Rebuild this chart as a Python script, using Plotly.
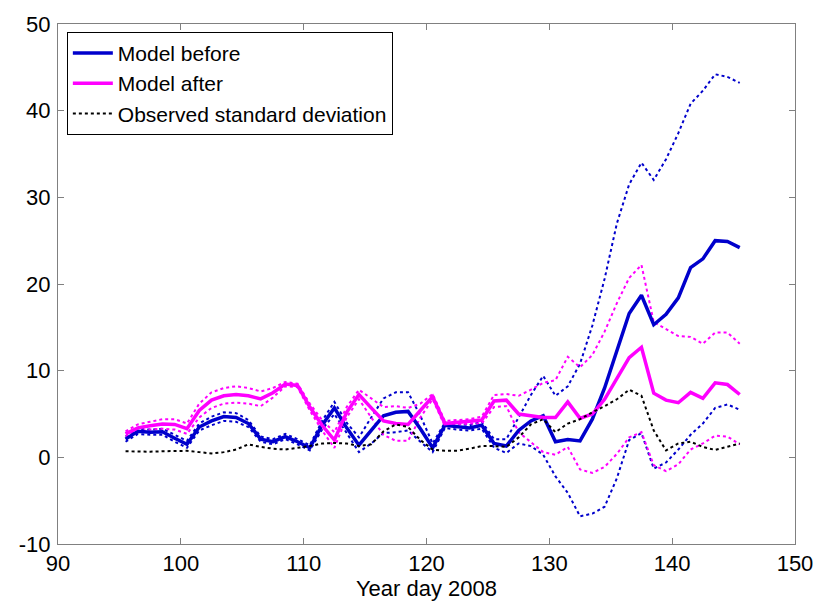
import plotly.graph_objects as go

days = [95.5, 96.5, 97.5, 98.5, 99.5, 100.5, 101.5, 102.5, 103.5, 104.5,
        105.5, 106.5, 107.5, 108.5, 109.5, 110.5, 111.5, 112.5, 113.5, 114.5,
        115.5, 116.5, 117.5, 118.5, 119.5, 120.5, 121.5, 122.5, 123.5, 124.5,
        125.5, 126.5, 127.5, 128.5, 129.5, 130.5, 131.5, 132.5, 133.5, 134.5,
        135.5, 136.5, 137.5, 138.5, 139.5, 140.5, 141.5, 142.5, 143.5, 144.5,
        145.5]

model_before = [2.1, 3.0, 2.9, 2.95, 2.2, 1.5, 3.5, 4.2, 4.7, 4.6,
                3.9, 2.1, 1.8, 2.4, 1.8, 1.1, 3.7, 5.7, 3.4, 1.4,
                3.1, 4.8, 5.2, 5.3, 3.3, 1.1, 3.7, 3.55, 3.4, 3.7,
                1.6, 1.3, 3.1, 4.2, 4.8, 1.8, 2.05, 1.9, 4.4, 8.0,
                12.2, 16.6, 18.7, 15.3, 16.5, 18.4, 21.9, 22.9, 25.0, 24.9,
                24.2]

before_upper = [2.4, 3.3, 3.2, 3.3, 2.6, 1.9, 3.9, 4.7, 5.2, 5.1,
                4.3, 2.4, 2.1, 2.7, 2.1, 1.4, 4.2, 6.4, 4.0, 2.3,
                4.6, 6.8, 7.5, 7.5, 4.8, 1.6, 4.0, 3.9, 3.7, 4.1,
                2.1, 2.1, 4.6, 7.2, 9.4, 7.1, 8.2, 10.8, 15.2, 20.6,
                27.0, 31.5, 34.0, 32.0, 34.4, 37.4, 40.8, 42.3, 44.2, 43.9,
                43.2]

before_lower = [1.8, 2.7, 2.6, 2.6, 1.8, 1.1, 3.1, 3.7, 4.2, 4.1,
                3.5, 1.8, 1.5, 2.1, 1.5, 0.8, 3.2, 5.0, 2.8, 0.6,
                1.6, 2.8, 2.9, 3.1, 1.8, 0.6, 3.4, 3.2, 3.1, 3.3,
                1.1, 0.5, 1.6, 1.3, 0.3, -2.2, -4.1, -6.8, -6.5, -5.7,
                -2.4, 2.0, 2.8, -1.3, -0.6, 0.9, 2.6, 3.9, 5.7, 6.1,
                5.5]

model_after = [2.7, 3.4, 3.65, 3.85, 3.8, 3.3, 5.4, 6.6, 7.1, 7.25,
               7.1, 6.75, 7.45, 8.45, 8.3, 5.8, 3.7, 2.0, 5.2, 7.25,
               5.7, 4.2, 3.9, 3.8, 5.4, 7.0, 3.9, 4.05, 4.15, 4.3,
               6.5, 6.6, 5.0, 4.8, 4.6, 4.6, 6.4, 4.5, 5.0, 6.7,
               9.1, 11.5, 12.7, 7.4, 6.6, 6.3, 7.5, 6.8, 8.6, 8.4,
               7.25]

after_upper = [3.0, 3.8, 4.1, 4.4, 4.4, 3.9, 6.2, 7.5, 8.0, 8.2,
               8.0, 7.6, 8.0, 8.7, 8.5, 6.2, 4.3, 2.9, 5.8, 7.8,
               6.8, 5.8, 5.9, 5.7, 6.2, 7.3, 4.2, 4.3, 4.4, 4.7,
               7.2, 7.3, 7.1, 7.8, 8.6, 8.9, 11.6, 10.4, 11.8, 14.5,
               17.8, 20.7, 22.2, 15.6, 14.8, 14.0, 13.9, 13.1, 14.4, 14.4,
               13.1]

after_lower = [2.4, 3.0, 3.2, 3.3, 3.2, 2.7, 4.6, 5.7, 6.2, 6.3,
               6.2, 5.9, 6.9, 8.2, 8.1, 5.4, 3.1, 1.1, 4.6, 6.7,
               4.6, 2.6, 1.9, 1.9, 4.6, 6.7, 3.6, 3.8, 3.9, 3.9,
               5.8, 5.9, 2.9, 1.8, 0.6, 0.3, 1.2, -1.4, -1.8, -1.1,
               0.4, 2.3, 2.9, -0.9, -1.6, -0.8, 0.9, 1.6, 2.5, 2.4,
               1.5]

observed_std = [0.7, 0.65, 0.65, 0.7, 0.7, 0.75, 0.6, 0.45, 0.6, 0.9,
                1.5, 1.2, 1.0, 0.9, 1.1, 1.3, 1.6, 1.65, 1.6, 1.3,
                1.5, 3.0, 3.8, 3.5, 2.0, 0.9, 0.75, 0.75, 1.0, 1.3,
                1.3, 1.2, 2.3, 3.8, 4.4, 2.9, 3.9, 4.4, 5.2, 5.9,
                6.7, 7.8, 7.1, 3.1, 0.8, 1.6, 1.8, 1.2, 0.85, 1.2,
                1.6]

x_ticks = [90, 100, 110, 120, 130, 140, 150]
y_ticks = [-10, 0, 10, 20, 30, 40, 50]

BLUE = "#0000CC"
MAGENTA = "#FF00FF"

fig = go.Figure()

# dotted spread bands (no legend)
for ys, col in [(before_upper, BLUE), (before_lower, BLUE),
                (after_upper, MAGENTA), (after_lower, MAGENTA)]:
    fig.add_trace(go.Scatter(x=days, y=ys, mode="lines",
                             line=dict(color=col, width=2, dash="dot"),
                             showlegend=False, hoverinfo="skip"))

fig.add_trace(go.Scatter(x=days, y=model_before, mode="lines", name="Model before",
                         line=dict(color=BLUE, width=3.5)))
fig.add_trace(go.Scatter(x=days, y=model_after, mode="lines", name="Model after",
                         line=dict(color=MAGENTA, width=3.5)))
fig.add_trace(go.Scatter(x=days, y=observed_std, mode="lines",
                         name="Observed standard deviation",
                         line=dict(color="black", width=2, dash="dot")))

axis_common = dict(showline=True, linecolor="#808080", linewidth=1, mirror="ticks",
                   ticks="inside", ticklen=6, tickcolor="#808080", showgrid=False,
                   zeroline=False, tickfont=dict(family="Arial", size=22, color="black"))

fig.update_xaxes(range=[90, 150], tickvals=x_ticks, ticktext=[str(v) for v in x_ticks],
                 title=dict(text="Year day 2008", font=dict(family="Arial", size=22, color="black"),
                            standoff=2),
                 **axis_common)
fig.update_yaxes(range=[-10, 50], tickvals=y_ticks, ticktext=[str(v) for v in y_ticks],
                 ticklabelstandoff=2, **axis_common)

fig.update_layout(
    width=825, height=606,
    margin=dict(l=58, r=22, t=19, b=57),
    paper_bgcolor="white", plot_bgcolor="white",
    font=dict(family="Arial", size=21, color="black"),
    legend=dict(x=0.012, y=0.985, xanchor="left", yanchor="top",
                bgcolor="white", bordercolor="black", borderwidth=1,
                font=dict(family="Arial", size=21, color="black"),
                tracegroupgap=0, itemwidth=40),
)

fig.write_html("out.html")
